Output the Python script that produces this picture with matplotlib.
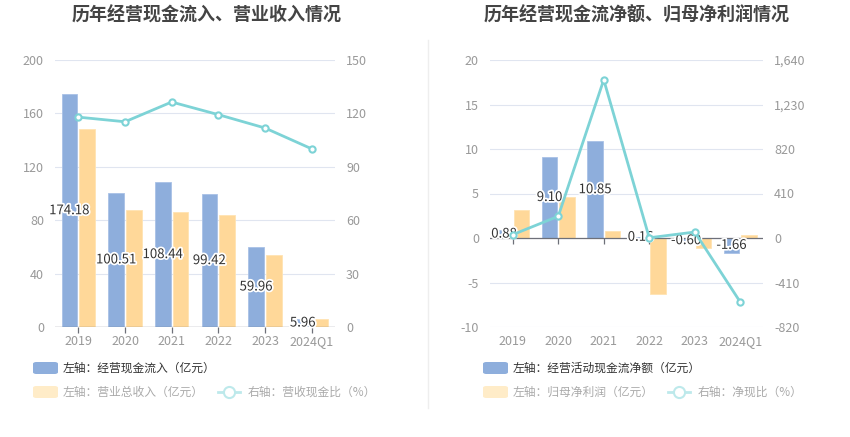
import matplotlib
matplotlib.use("Agg")
import matplotlib.pyplot as plt
import matplotlib.patheffects as pe
from matplotlib.lines import Line2D
from matplotlib.patches import FancyBboxPatch
import numpy as np

plt.rcParams['font.family'] = ['Noto Sans CJK SC', 'DejaVu Sans']

categories = ["2019", "2020", "2021", "2022", "2023", "2024Q1"]

# Left chart
cash_inflow = [174.18, 100.51, 108.44, 99.42, 59.96, 5.96]
revenue = [148.0, 87.3, 86.0, 83.8, 53.8, 6.0]
cash_ratio = [117.9, 115.3, 126.4, 119.3, 111.8, 100.1]
left_ticks = [0, 40, 80, 120, 160, 200]
left_rticks = [0, 30, 60, 90, 120, 150]

# Right chart
net_cash = [0.88, 9.10, 10.85, 0.16, -0.60, -1.66]
net_profit = [3.11, 4.61, 0.75, -6.26, -1.09, 0.30]
net_ratio = [31, 200, 1458, 2, 55, -590]
right_ticks = [-10, -5, 0, 5, 10, 15, 20]
right_rticks = [-820, -410, 0, 410, 820, 1230, 1640]
right_rlabels = ["-820", "-410", "0", "410", "820", "1,230", "1,640"]

BLUE = "#8eaedc"
ORANGE = "#ffd899"
TEAL = "#7dd3d6"
GRID = "#e0e5f0"
TICK = "#999999"

W, H = 850, 437
fig = plt.figure(figsize=(W / 100, H / 100), dpi=100)


def ax_rect(x0, y0, x1, y1):
    return [x0 / W, 1 - y1 / H, (x1 - x0) / W, (y1 - y0) / H]


def swatch(x, yc, color):
    fig.patches.append(FancyBboxPatch((x / W, 1 - (yc + 6) / H), 25 / W, 12 / H,
                                      boxstyle="round,pad=0,rounding_size=0.004",
                                      transform=fig.transFigure, facecolor=color, edgecolor='none'))


def draw(rect, bars1, bars2, line, yticks, ylim, rticks, rlabels, rlim, title, title_x, leg):
    ax = fig.add_axes(rect)
    x = np.arange(len(categories))
    bw = 0.34
    ax.bar(x - bw / 2 - 0.02, bars1, bw, color=BLUE, edgecolor="#a9c1e6", linewidth=0.6, zorder=2)
    ax.bar(x + bw / 2 + 0.02, bars2, bw, color=ORANGE, edgecolor="#ffe3b3", linewidth=0.6, zorder=2)
    ax.set_xlim(-0.5, len(categories) - 0.5)
    ax.set_ylim(*ylim)
    ax.set_yticks(yticks)
    ax.set_yticklabels([str(t) for t in yticks])
    ax.grid(axis='y', color=GRID, linewidth=0.8, zorder=0)
    ax.set_axisbelow(True)
    for s in ["top", "right", "left", "bottom"]:
        ax.spines[s].set_visible(False)
    ax.axhline(0, color="#6e7079", linewidth=0.9, zorder=3)
    ax.plot(x, [0] * len(x), linestyle='none', marker=3, markersize=4.5,
            markeredgecolor="#6e7079", markeredgewidth=0.9, zorder=3, clip_on=False)
    ax.set_xticks(x)
    ax.set_xticklabels(categories)
    ax.tick_params(axis='x', length=0, labelcolor=TICK, labelsize=9, pad=6)
    ax.tick_params(axis='y', length=0, labelcolor=TICK, labelsize=9, pad=8)
    for i, v in enumerate(bars1):
        ax.text(x[i] - bw / 2 - 0.02, v / 2, f"{v:.2f}", ha='center', va='center', fontsize=9.5,
                color="#333333", zorder=5,
                path_effects=[pe.withStroke(linewidth=2.5, foreground="white")])
    ax2 = ax.twinx()
    ax2.set_ylim(*rlim)
    ax2.set_yticks(rticks)
    ax2.set_yticklabels(rlabels)
    ax2.tick_params(axis='y', length=0, labelcolor=TICK, labelsize=9, pad=8)
    for s in ["top", "right", "left", "bottom"]:
        ax2.spines[s].set_visible(False)
    ax2.plot(x, line, color=TEAL, linewidth=2, marker='o', markersize=4.5,
             markerfacecolor="white", markeredgecolor=TEAL, markeredgewidth=1.5, zorder=6)
    ax.set_zorder(1)
    ax2.set_zorder(2)
    ax2.patch.set_visible(False)
    fig.text(title_x / W, 1 - 15 / H, title, ha='center', va='center', fontsize=13,
             fontweight='bold', color="#444444")
    # legend
    lx, t1, t2, lx2, t3 = leg
    swatch(lx, 368, BLUE)
    fig.text((lx + 30) / W, 1 - 368 / H, t1, ha='left', va='center', fontsize=8.5, color="#333333")
    swatch(lx, 392, "#ffecc8")
    fig.text((lx + 30) / W, 1 - 392 / H, t2, ha='left', va='center', fontsize=8.5, color="#aaaaaa")
    fig.lines.append(Line2D([lx2 / W, (lx2 + 22) / W], [1 - 392 / H, 1 - 392 / H],
                            transform=fig.transFigure, color="#bde9eb", linewidth=2))
    fig.lines.append(Line2D([(lx2 + 11) / W], [1 - 392 / H], transform=fig.transFigure,
                            marker='o', markersize=8, markerfacecolor='white', markeredgecolor="#bde9eb",
                            markeredgewidth=1.5, linestyle='none'))
    fig.text((lx2 + 30) / W, 1 - 392 / H, t3, ha='left', va='center', fontsize=8.5, color="#aaaaaa")
    return ax


draw(ax_rect(55, 60, 335, 327), cash_inflow, revenue, cash_ratio, left_ticks, (0, 200),
     left_rticks, [str(t) for t in left_rticks], (0, 150),
     "历年经营现金流入、营业收入情况", 207,
     (33, "左轴：经营现金流入（亿元）", "左轴：营业总收入（亿元）", 218, "右轴：营收现金比（%）"))

draw(ax_rect(490, 60, 763, 327), net_cash, net_profit, net_ratio, right_ticks, (-10, 20),
     right_rticks, right_rlabels, (-820, 1640),
     "历年经营现金流净额、归母净利润情况", 637,
     (483, "左轴：经营活动现金流净额（亿元）", "左轴：归母净利润（亿元）", 668, "右轴：净现比（%）"))

fig.lines.append(Line2D([428 / W, 428 / W], [1 - 40 / H, 1 - 408 / H], transform=fig.transFigure,
                        color="#eeeeee", linewidth=1))

fig.savefig("out.png", dpi=100, facecolor="white")
